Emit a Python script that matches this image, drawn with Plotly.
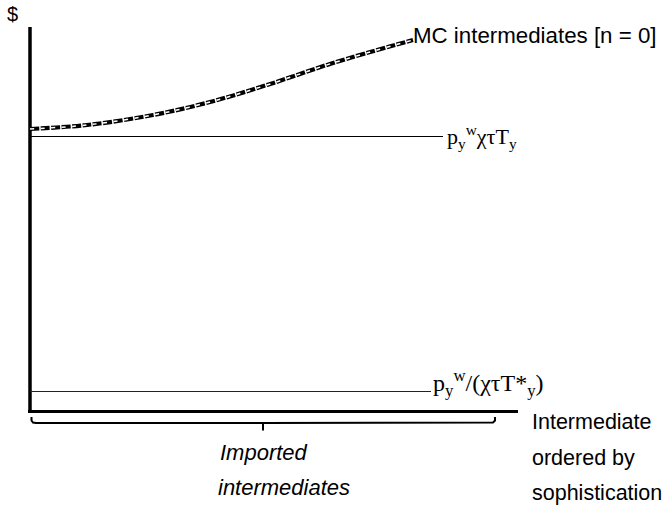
import plotly.graph_objects as go

# Schematic data (units: arbitrary, origin at axes corner)
curve_x = [0, 57, 123, 180, 237, 303, 383]
curve_y = [282.5, 286.5, 296.5, 309.5, 326.5, 348.5, 371.5]

line_high_x = [0, 413]
line_high_y = [275, 275]

line_low_x = [0, 401]
line_low_y = [20, 20]

yaxis_x = [0, 0]
yaxis_y = [-1.5, 384.5]
xaxis_x = [-2, 488]
xaxis_y = [0, 0]

brace_x = [1.5, 1.5, 3, 6, 232, 233, 233, 233, 234, 460, 463, 465, 465]
brace_y = [-5.5, -9, -11, -11.5, -11.5, -11.5, -19, -11.5, -11.5, -11.5, -11, -9, -5.5]

FONT_SANS = "Liberation Sans, Arial, sans-serif"
FONT_SERIF = "Liberation Serif, Times New Roman, serif"

fig = go.Figure()

# axes
fig.add_trace(go.Scatter(x=yaxis_x, y=yaxis_y, mode="lines",
                         line=dict(color="black", width=3.5), hoverinfo="skip"))
fig.add_trace(go.Scatter(x=xaxis_x, y=xaxis_y, mode="lines",
                         line=dict(color="black", width=3.2), hoverinfo="skip"))

# horizontal lines
fig.add_trace(go.Scatter(x=line_high_x, y=line_high_y, mode="lines",
                         line=dict(color="black", width=1), hoverinfo="skip"))
fig.add_trace(go.Scatter(x=line_low_x, y=line_low_y, mode="lines",
                         line=dict(color="#222222", width=1), hoverinfo="skip"))

# dashed double curve
fig.add_trace(go.Scatter(x=curve_x, y=curve_y, mode="lines",
                         line=dict(color="black", width=4.2, shape="spline",
                                   dash="9px,1.5px"),
                         hoverinfo="skip"))
fig.add_trace(go.Scatter(x=curve_x, y=curve_y, mode="lines",
                         line=dict(color="white", width=1.5, shape="spline",
                                   dash="4px,6.5px"),
                         hoverinfo="skip"))

# brace
fig.add_trace(go.Scatter(x=brace_x, y=brace_y, mode="lines",
                         line=dict(color="black", width=2), hoverinfo="skip"))

ann = []
def add(text, x, y, size=21.5, family=FONT_SANS, xanchor="left"):
    ann.append(dict(text=text, x=x, y=y, xref="x", yref="y", showarrow=False,
                    xanchor=xanchor, yanchor="middle",
                    font=dict(family=family, size=size, color="black")))

add("$", -18, 397.5, size=20, xanchor="center")
add("MC intermediates [n = 0]", 381, 376.5, size=22.3)
add("p<sub>y</sub><sup>w</sup>χτT<sub>y</sub>", 415, 275, family=FONT_SERIF, size=22)
add("p<sub>y</sub><sup>w</sup>/(χτT*<sub>y</sub>)", 401, 29, family=FONT_SERIF, size=24)
add("Intermediate", 500, -10.5)
add("ordered by", 500, -46.5)
add("sophistication", 500, -81.5)
add("<i>Imported</i>", 188, -40.5, size=22)
add("<i>intermediates</i>", 186, -75.5, size=22)

fig.update_layout(
    width=666, height=510,
    margin=dict(l=0, r=0, t=0, b=0),
    paper_bgcolor="white", plot_bgcolor="white",
    showlegend=False,
    xaxis=dict(range=[-30, 636], visible=False, fixedrange=True),
    yaxis=dict(range=[-98.5, 411.5], visible=False, fixedrange=True),
    annotations=ann,
)

fig.write_html("out.html")
